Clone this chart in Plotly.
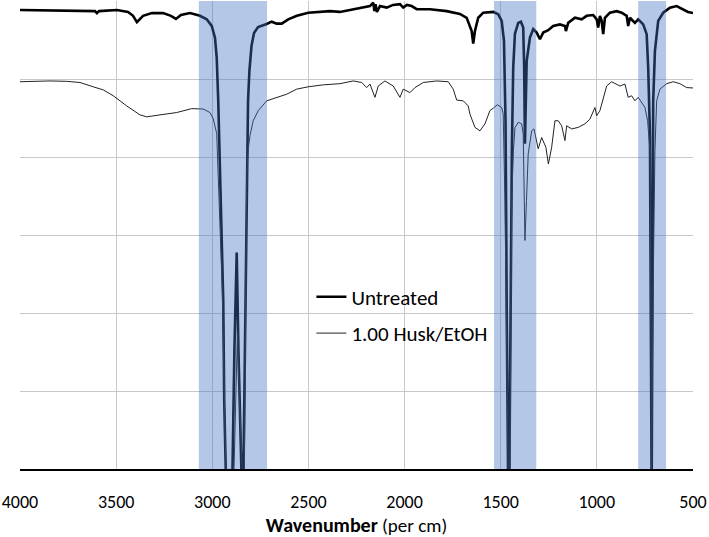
import plotly.graph_objects as go

# Untreated (thick line): wavenumber (cm-1) and transmittance-like signal
untreated_wn = [4000, 3792, 3610, 3600, 3589, 3496, 3438, 3412, 3392, 3360, 3314, 3256, 3215, 3189,
                3163, 3116, 3064, 3029, 3003, 2986, 2977, 2969, 2960, 2951, 2943, 2938, 2930, 2918,
                2895, 2885, 2873, 2864, 2853, 2846, 2838, 2830, 2825, 2820, 2814, 2807, 2796, 2783,
                2762, 2717, 2691, 2665, 2639, 2605, 2560, 2501, 2388, 2336, 2267, 2206, 2180, 2163,
                2157, 2151, 2144, 2128, 2093, 2060, 2024, 2007, 1988, 1963, 1937, 1868, 1781, 1712,
                1677, 1651, 1643, 1634, 1617, 1591, 1539, 1513, 1495, 1483, 1475, 1468, 1461, 1455,
                1447, 1442, 1435, 1426, 1409, 1395, 1383, 1378, 1374, 1365, 1348, 1331, 1313, 1296,
                1279, 1253, 1227, 1192, 1166, 1161, 1149, 1114, 1079, 1053, 1019, 1001, 993, 984,
                975, 967, 958, 932, 897, 871, 845, 837, 828, 802, 785, 759, 741, 733, 724, 719, 715,
                711, 707, 698, 681, 655, 620, 585, 551, 526, 500]
untreated_t = [117.7, 117.6, 117.4, 116.9, 117.4, 117.7, 117.2, 116.2, 114.6, 116.2, 116.9, 116.9, 116.2, 115.4,
               116.4, 116.9, 116.2, 115.3, 113.6, 110.6, 105.5, 94.4, 77.3, 60.4, 43.2, 17.7, -0.3, -5.4,
               -0.3, 30.4, 55.5, 30.4, -0.3, -5.4, -0.3, 30.4, 56.0, 81.6, 94.4, 102.1, 108.5, 111.8,
               113.3, 114.1, 114.7, 114.2, 114.2, 115.3, 116.2, 117.0, 117.4, 117.2, 117.9, 118.5, 118.7, 119.6,
               117.4, 119.2, 117.2, 118.7, 118.3, 119.0, 119.2, 118.3, 119.0, 118.7, 117.9, 117.9, 117.4, 116.7,
               115.7, 112.3, 109.1, 112.3, 115.7, 117.0, 117.2, 116.6, 114.9, 109.8, 89.3, 35.6, -5.4, -0.3,
               56.0, 81.6, 102.9, 111.6, 114.4, 114.7, 113.2, 102.9, 83.4, 104.6, 110.6, 112.8, 111.9, 110.2,
               111.9, 112.5, 113.6, 114.0, 113.6, 112.3, 114.4, 115.7, 115.3, 116.2, 116.4, 115.3, 113.2, 116.2,
               114.9, 111.5, 115.7, 117.0, 117.4, 117.0, 116.2, 113.6, 115.7, 114.4, 115.3, 114.0, 111.5, 102.9, 86.0, 43.2, -5.4,
               43.2, 94.4, 107.2, 114.9, 117.0, 118.3, 118.7, 117.9, 117.2, 116.9]

# 1.00 Husk/EtOH (thin line)
husk_wn = [4000, 3844, 3757, 3688, 3619, 3567, 3515, 3445, 3376, 3341, 3272, 3185, 3107, 3047, 3012,
           2995, 2977, 2965, 2948, 2937, 2929, 2916, 2887, 2878, 2869, 2859, 2848, 2840, 2833, 2827,
           2821, 2814, 2804, 2787, 2761, 2717, 2665, 2613, 2561, 2501, 2423, 2336, 2267, 2223, 2197,
           2180, 2154, 2137, 2102, 2059, 2024, 2007, 1972, 1946, 1903, 1833, 1773, 1747, 1729, 1695,
           1669, 1660, 1634, 1608, 1582, 1556, 1539, 1518, 1495, 1487, 1478, 1468, 1460, 1452, 1443,
           1434, 1426, 1409, 1391, 1383, 1374, 1366, 1357, 1339, 1327, 1305, 1287, 1265, 1252, 1235,
           1218, 1201, 1183, 1166, 1157, 1131, 1097, 1062, 1036, 1010, 1001, 984, 967, 949, 923, 897,
           880, 854, 837, 819, 802, 785, 767, 750, 736, 724, 719, 716, 708, 698, 689, 672, 637, 603,
           568, 533, 500]
husk_t = [99.3, 99.5, 99.4, 99.1, 98.0, 97.2, 95.7, 93.1, 90.8, 90.3, 90.8, 91.4, 92.4, 92.3, 91.4,
          89.8, 86.0, 68.8, 45.8, 17.7, -0.3, -5.4, -0.3, 17.7, 35.1, 17.7, -0.3, -5.4, -0.3, 43.2,
          74.7, 81.6, 85.5, 89.3, 91.9, 94.4, 95.3, 96.1, 97.4, 98.0, 98.5, 98.8, 99.5, 99.1, 97.8,
          98.7, 95.3, 98.2, 99.5, 98.2, 95.3, 97.4, 96.5, 97.8, 99.1, 99.5, 99.3, 97.4, 94.6, 94.4,
          93.1, 91.0, 87.6, 86.7, 88.5, 91.9, 92.5, 93.4, 92.7, 91.1, 68.8, 17.7, -5.4, -0.3, 68.8,
          81.6, 87.5, 88.9, 88.5, 85.9, 58.6, 68.8, 80.8, 86.7, 87.2, 82.1, 85.0, 82.5, 78.2, 82.5,
          89.3, 89.3, 88.0, 84.2, 88.0, 87.2, 87.6, 88.5, 89.7, 92.7, 90.6, 91.9, 95.3, 98.2, 99.3, 98.7,
          98.2, 98.7, 95.3, 95.7, 94.4, 95.3, 94.0, 92.7, 89.3, 81.6, 43.2, -5.4, 43.2, 81.6, 94.4, 97.4, 98.8, 99.3,
          98.8, 97.8, 97.7]

# highlighted bands (cm-1)
band_hi = [3070, 1535, 785]
band_lo = [2715, 1315, 640]

x_ticks = [4000, 3500, 3000, 2500, 2000, 1500, 1000, 500]

fnt = "Calibri, Carlito, Lato, sans-serif"

fig = go.Figure()
fig.add_trace(go.Scatter(x=untreated_wn, y=untreated_t, mode="lines", name="Untreated",
                         legendgroup="a", line=dict(color="black", width=2.6)))
fig.add_trace(go.Scatter(x=husk_wn, y=husk_t, mode="lines", name="1.00 Husk/EtOH",
                         legendgroup="b", line=dict(color="#222222", width=1)))

for hi, lo in zip(band_hi, band_lo):
    fig.add_shape(type="rect", xref="x", yref="paper", x0=hi, x1=lo, y0=0, y1=1,
                  fillcolor="rgba(68,114,196,0.4)", line=dict(width=0), layer="above")

fig.update_layout(
    width=709, height=537,
    margin=dict(l=20, r=16, t=1, b=68),
    paper_bgcolor="white", plot_bgcolor="white",
    font=dict(family=fnt, color="black"),
    legend=dict(x=0.433, y=0.411, xanchor="left", yanchor="top", bgcolor="rgba(0,0,0,0)",
                font=dict(size=21, family=fnt), tracegroupgap=6, traceorder="grouped"),
)
fig.update_xaxes(range=[4000, 500], tickvals=x_ticks, showgrid=True, gridcolor="#c8c8c8", gridwidth=1,
                 showline=True, linecolor="black", linewidth=2, zeroline=False, automargin=False,
                 ticks="outside", ticklen=15, tickcolor="rgba(0,0,0,0)",
                 tickfont=dict(size=18, family=fnt),
                 title=dict(text="<b>Wavenumber</b><span style='font-size:19px'> (per cm)</span>",
                            font=dict(size=20, family=fnt), standoff=10))
fig.update_yaxes(range=[0, 120], dtick=20, showgrid=True, gridcolor="#c8c8c8", gridwidth=1,
                 showticklabels=False, zeroline=False, showline=False)

fig.write_html("out.html", post_script="document.body.style.margin='0';",
               config={"displayModeBar": False})
